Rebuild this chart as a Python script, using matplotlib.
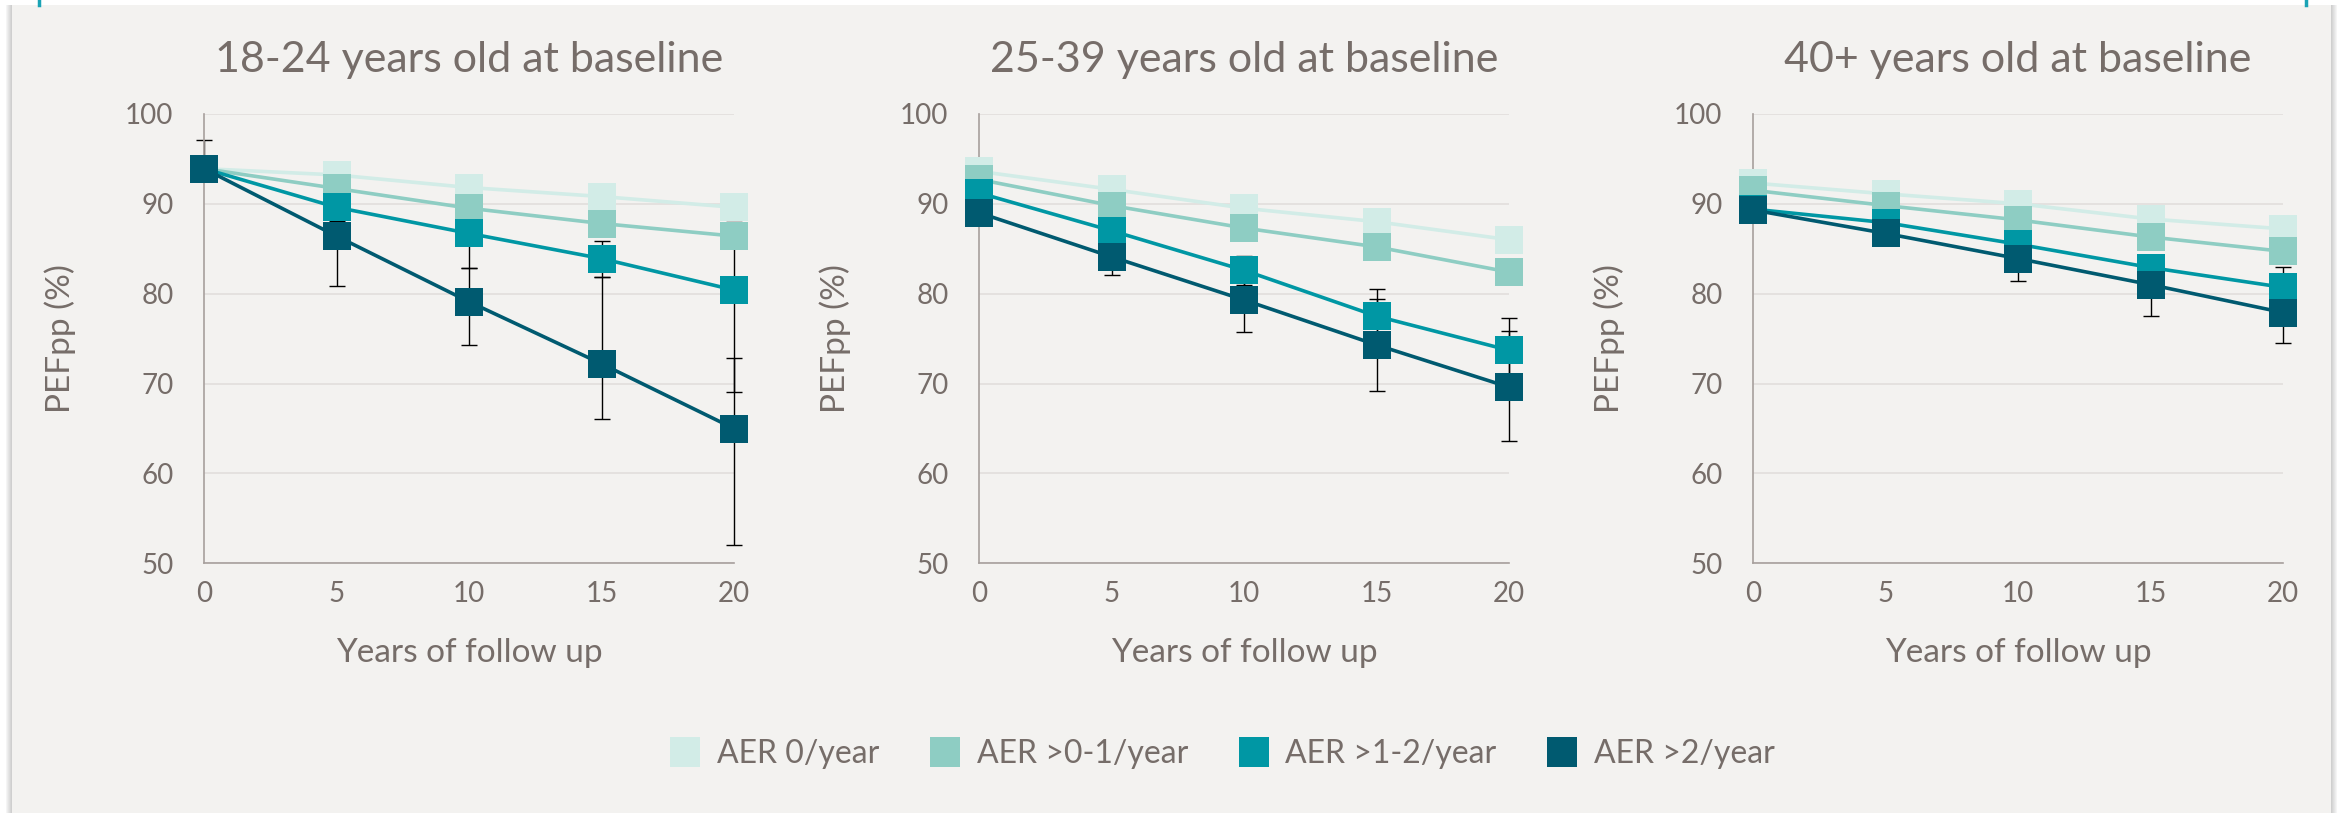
import numpy as np
import matplotlib
matplotlib.use("Agg")
import matplotlib.pyplot as plt
from matplotlib.lines import Line2D
from matplotlib.patches import Rectangle

plt.rcParams['font.family'] = ['Lato', 'DejaVu Sans']

years = [0, 5, 10, 15, 20]
series_names = ['AER 0/year', 'AER >0-1/year', 'AER >1-2/year', 'AER >2/year']
colors = ['#D2ECE7', '#8ECDC3', '#0097A4', '#005A70']
titles = ['18-24 years old at baseline', '25-39 years old at baseline', '40+ years old at baseline']

nan = np.nan

# 18-24 years
p1_aer0 = [93.9, 93.2, 91.8, 90.8, 89.6]
p1_aer01 = [93.9, 91.7, 89.5, 87.8, 86.4]
p1_aer12 = [93.9, 89.6, 86.7, 83.9, 80.4]
p1_aer2 = [93.9, 86.4, 79.1, 72.2, 65.0]
p1_err12_lo = [nan, nan, 82.8, 81.9, 69.1]
p1_err12_hi = [nan, nan, 90.6, 85.9, 88.0]
p1_err2_lo = [93.9, 80.8, 74.3, 66.1, 52.1]
p1_err2_hi = [97.1, 88.1, 82.8, 81.9, 72.8]

# 25-39 years
p2_aer0 = [93.6, 91.6, 89.5, 88.0, 86.0]
p2_aer01 = [92.7, 89.8, 87.3, 85.2, 82.4]
p2_aer12 = [91.2, 87.0, 82.6, 77.5, 73.7]
p2_aer2 = [89.0, 84.1, 79.3, 74.3, 69.6]
p2_err12_lo = [nan, nan, 81.0, 74.5, 70.1]
p2_err12_hi = [nan, nan, 84.2, 80.5, 77.3]
p2_err2_lo = [nan, 82.1, 75.7, 69.2, 63.6]
p2_err2_hi = [nan, 86.1, 82.9, 79.4, 75.8]

# 40+ years
p3_aer0 = [92.3, 91.1, 90.0, 88.3, 87.2]
p3_aer01 = [91.5, 89.8, 88.2, 86.3, 84.7]
p3_aer12 = [89.4, 87.9, 85.5, 82.9, 80.7]
p3_aer2 = [89.3, 86.7, 83.9, 81.0, 77.9]
p3_err12_lo = [nan, nan, nan, nan, 78.4]
p3_err12_hi = [nan, nan, nan, 85.0, 83.0]
p3_err2_lo = [nan, nan, 81.4, 77.5, 74.5]
p3_err2_hi = [nan, nan, 86.4, 84.0, 81.3]

panels = [
    ([p1_aer0, p1_aer01, p1_aer12, p1_aer2],
     {2: (p1_err12_lo, p1_err12_hi), 3: (p1_err2_lo, p1_err2_hi)}),
    ([p2_aer0, p2_aer01, p2_aer12, p2_aer2],
     {2: (p2_err12_lo, p2_err12_hi), 3: (p2_err2_lo, p2_err2_hi)}),
    ([p3_aer0, p3_aer01, p3_aer12, p3_aer2],
     {2: (p3_err12_lo, p3_err12_hi), 3: (p3_err2_lo, p3_err2_hi)}),
]

text_col = '#766D69'
spine_col = '#A7A09D'
grid_col = '#E0DDDB'
bg = '#F3F2F0'

W, H = 2341, 813
fig = plt.figure(figsize=(W / 100, H / 100), dpi=100, facecolor='white')

# slide panel background, shadow and accent ticks
for i, a in enumerate([0.04, 0.07, 0.10, 0.13, 0.16, 0.19]):
    fig.add_artist(Rectangle(((6 + i) / W, 0), 1 / W, (H - 5) / H, zorder=-20,
                             transform=fig.transFigure, facecolor='black', alpha=a, lw=0))
    fig.add_artist(Rectangle(((2336 - i) / W, 0), 1 / W, (H - 5) / H, zorder=-20,
                             transform=fig.transFigure, facecolor='black', alpha=a, lw=0))
fig.add_artist(Rectangle((12 / W, 0), (2331 - 12) / W, (H - 5) / H, zorder=-10,
                         transform=fig.transFigure, facecolor=bg, lw=0))
for xp in (38.5, 2305.5):
    fig.add_artist(Line2D([xp / W, xp / W], [1, (H - 5) / H], transform=fig.transFigure,
                          color='#1AA3B5', lw=2.5, zorder=-10))

lefts = [204, 979, 1753]
ax_w = 530
ax_top, ax_bot = 113.8, 563.4

for k, (vals, errs) in enumerate(panels):
    ax = fig.add_axes([lefts[k] / W, 1 - ax_bot / H, ax_w / W, (ax_bot - ax_top) / H])
    ax.set_facecolor('none')
    ax.set_xlim(0, 20)
    ax.set_ylim(50, 100)
    ax.set_xticks(years)
    ax.set_yticks(range(50, 101, 10))
    ax.grid(axis='y', color=grid_col, lw=1.1, zorder=0)
    ax.set_axisbelow(True)
    for s in ['top', 'right']:
        ax.spines[s].set_visible(False)
    for s in ['left', 'bottom']:
        ax.spines[s].set_color(spine_col)
        ax.spines[s].set_linewidth(1.2)
    ax.tick_params(axis='both', length=0, labelsize=20, colors=text_col)
    ax.tick_params(axis='y', pad=22)
    ax.tick_params(axis='x', pad=13)

    x = np.array(years, dtype=float)
    for si, lohi in errs.items():
        y = np.array(vals[si], dtype=float)
        lo = np.array(lohi[0], dtype=float)
        hi = np.array(lohi[1], dtype=float)
        m = ~np.isnan(lo) & ~np.isnan(hi)
        ax.errorbar(x[m], y[m], yerr=[y[m] - lo[m], hi[m] - y[m]], fmt='none',
                    ecolor='black', elinewidth=1.0, capsize=5.5, capthick=1.0,
                    zorder=2, clip_on=False)

    for si in range(4):
        ax.plot(years, vals[si], color=colors[si], lw=2.6, marker='s', markersize=19.5,
                markeredgewidth=0, zorder=3 + si, clip_on=False)

    ax.set_title(titles[k], fontsize=31, color=text_col, y=1.094, va='baseline', pad=0)
    ax.set_ylabel('PEFpp (%)', fontsize=24, color=text_col)
    ax.yaxis.set_label_coords(-0.242, 0.5)
    ax.set_xlabel('Years of follow up', fontsize=24, color=text_col)
    ax.xaxis.set_label_coords(0.5, -0.165)

handles = [Line2D([], [], ls='none', marker='s', markersize=22, markeredgewidth=0,
                  color=c) for c in colors]
leg = fig.legend(handles, series_names, loc='center', bbox_to_anchor=(1222 / W, 1 - 754 / H),
                 ncol=4, frameon=False, fontsize=23, handlelength=1.0, handletextpad=0.5,
                 columnspacing=1.55)
for t in leg.get_texts():
    t.set_color(text_col)

fig.savefig('out.png', dpi=100, facecolor='white')
